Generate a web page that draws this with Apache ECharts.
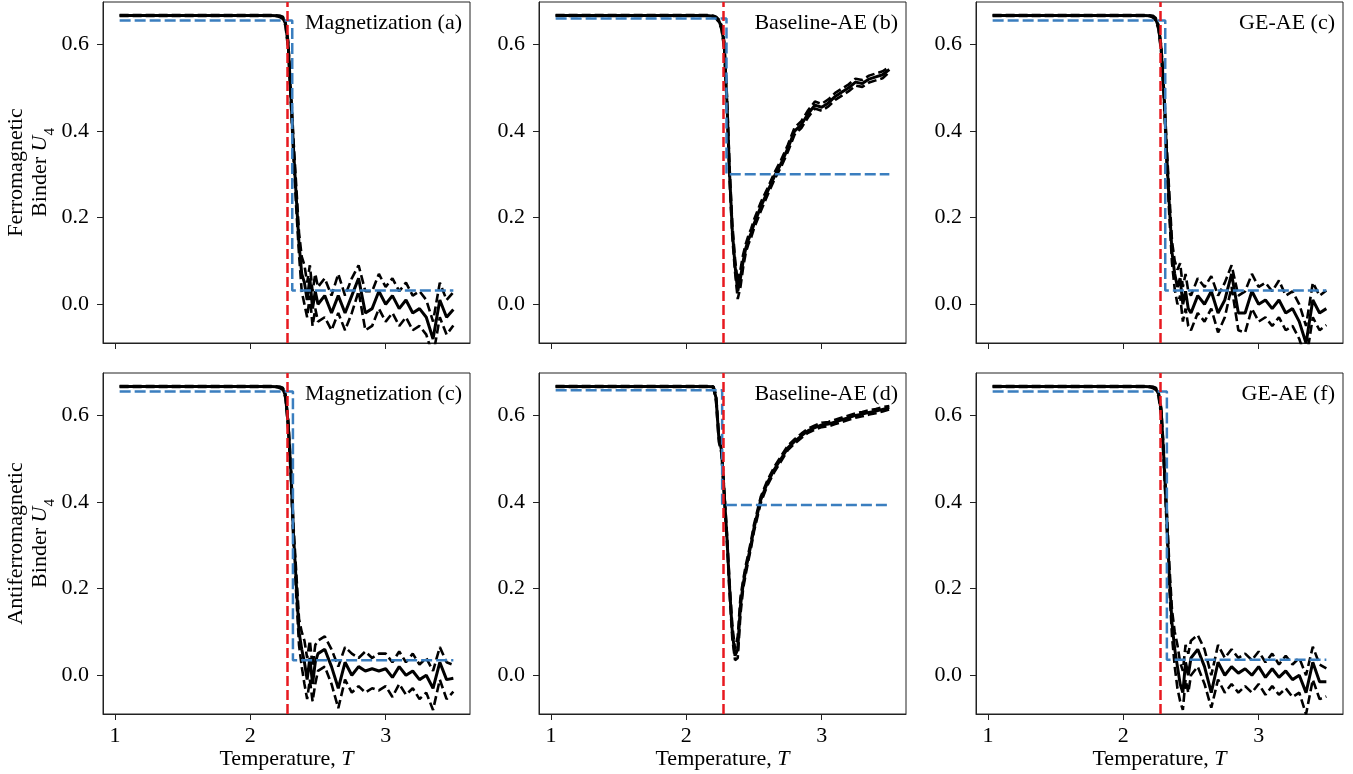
<!DOCTYPE html>
<html><head><meta charset="utf-8">
<script src="https://cdn.jsdelivr.net/npm/echarts@6/dist/echarts.min.js"></script>
<style>html,body{margin:0;padding:0;background:#fff}#c{width:1353px;height:774px}</style>
</head><body><div id="c"></div>
<script>
// Temperature grid
const T = [1.035, 1.2, 1.4, 1.6, 1.8, 2.0, 2.1, 2.15, 2.2, 2.22, 2.24, 2.26, 2.28, 2.30, 2.32, 2.34, 2.36, 2.38,
  2.40, 2.42, 2.44, 2.46, 2.48, 2.50, 2.55, 2.60, 2.65, 2.70, 2.75, 2.80, 2.85, 2.90, 2.95, 3.00, 3.05, 3.10,
  3.15, 3.20, 3.25, 3.30, 3.35, 3.40, 3.45, 3.50];
const Tc = 2.269;
const titles = ['Magnetization (a)', 'Baseline-AE (b)', 'GE-AE (c)', 'Magnetization (c)', 'Baseline-AE (d)', 'GE-AE (f)'];
const xTicks = [1, 2, 3];
const yTicks = [0, 0.2, 0.4, 0.6];

// Panel (a) Magnetization, ferromagnetic
const magA_mean = [0.667,0.667,0.667,0.667,0.667,0.667,0.667,0.667,0.666,0.665,0.662,0.648,0.600,0.480,0.355,0.245,0.140,0.070,
  0.050,0.010,0.060,-0.010,0.030,0.000,0.020,-0.020,0.020,-0.020,0.020,0.060,-0.020,-0.010,0.030,0.000,0.020,-0.010,0.010,-0.020,-0.010,-0.030,-0.080,0.010,-0.030,-0.012];
const magA_up = [0.668,0.668,0.668,0.668,0.668,0.668,0.668,0.668,0.667,0.666,0.664,0.652,0.608,0.495,0.375,0.270,0.165,0.110,
  0.09,0.05,0.09,0.03,0.07,0.04,0.06,0.02,0.07,0.02,0.06,0.09,0.03,0.03,0.07,0.04,0.06,0.03,0.05,0.02,0.03,0.01,-0.04,0.05,0.01,0.028];
const magA_lo = [0.666,0.666,0.666,0.666,0.666,0.666,0.666,0.666,0.665,0.663,0.659,0.643,0.590,0.465,0.335,0.220,0.115,0.030,
  0.00,-0.03,0.02,-0.05,-0.01,-0.04,-0.03,-0.06,-0.02,-0.06,-0.02,0.03,-0.06,-0.05,-0.01,-0.04,-0.02,-0.05,-0.03,-0.06,-0.05,-0.07,-0.12,-0.03,-0.07,-0.049];

// Panel (b) Baseline-AE, ferromagnetic
const baseB_mean = [0.667,0.667,0.667,0.667,0.667,0.667,0.667,0.667,0.665,0.662,0.655,0.640,0.600,0.470,0.300,0.170,0.090,0.030,
  0.060,0.100,0.130,0.150,0.165,0.185,0.225,0.260,0.295,0.325,0.360,0.400,0.415,0.440,0.460,0.455,0.465,0.480,0.490,0.500,0.513,0.510,0.520,0.525,0.530,0.542];
const baseB_up = [0.668,0.668,0.668,0.668,0.668,0.668,0.668,0.668,0.666,0.664,0.658,0.645,0.608,0.485,0.315,0.185,0.105,0.050,
  0.080,0.115,0.140,0.160,0.175,0.195,0.235,0.268,0.303,0.333,0.368,0.408,0.423,0.448,0.468,0.463,0.473,0.488,0.498,0.508,0.521,0.518,0.528,0.533,0.538,0.548];
const baseB_lo = [0.666,0.666,0.666,0.666,0.666,0.666,0.666,0.666,0.664,0.660,0.652,0.635,0.592,0.455,0.285,0.155,0.075,0.012,
  0.040,0.085,0.120,0.140,0.155,0.175,0.215,0.252,0.287,0.317,0.352,0.392,0.407,0.432,0.452,0.447,0.457,0.472,0.482,0.492,0.505,0.502,0.512,0.517,0.522,0.536];

// Panel (c) GE-AE, ferromagnetic
const geC_mean = [0.667,0.667,0.667,0.667,0.667,0.667,0.667,0.667,0.666,0.664,0.658,0.640,0.590,0.490,0.350,0.230,0.120,0.070,
  0.04,0.06,0.00,0.03,-0.01,-0.02,0.02,0.00,0.03,-0.02,0.01,0.07,-0.02,-0.02,0.03,0.00,0.01,-0.01,0.01,-0.02,-0.01,-0.04,-0.09,0.01,-0.02,-0.01];
const geC_up = [0.668,0.668,0.668,0.668,0.668,0.668,0.668,0.668,0.667,0.666,0.661,0.645,0.598,0.505,0.370,0.255,0.145,0.100,
  0.08,0.095,0.04,0.07,0.03,0.02,0.06,0.04,0.065,0.02,0.05,0.09,0.02,0.03,0.07,0.04,0.05,0.03,0.055,0.02,0.03,0.00,-0.05,0.05,0.02,0.032];
const geC_lo = [0.666,0.666,0.666,0.666,0.666,0.666,0.666,0.666,0.665,0.662,0.655,0.635,0.582,0.475,0.330,0.205,0.095,0.035,
  0.00,0.02,-0.04,-0.01,-0.05,-0.06,-0.02,-0.04,-0.01,-0.065,-0.03,0.04,-0.06,-0.065,-0.01,-0.04,-0.03,-0.05,-0.03,-0.06,-0.05,-0.08,-0.13,-0.03,-0.06,-0.048];

// Panel (c, bottom) Magnetization, antiferromagnetic
const magD_mean = [0.667,0.667,0.667,0.667,0.667,0.667,0.667,0.667,0.666,0.665,0.662,0.645,0.580,0.470,0.320,0.210,0.100,0.060,
  0.03,-0.01,0.04,-0.02,0.03,0.05,0.06,0.02,-0.03,0.03,0.00,0.02,0.01,0.015,0.01,0.015,-0.005,0.02,0.00,0.01,-0.01,0.00,-0.03,0.03,-0.01,-0.007];
const magD_up = [0.668,0.668,0.668,0.668,0.668,0.668,0.668,0.668,0.667,0.666,0.664,0.650,0.590,0.485,0.340,0.235,0.130,0.100,
  0.08,0.04,0.08,0.02,0.07,0.08,0.09,0.06,0.02,0.065,0.05,0.04,0.055,0.04,0.05,0.05,0.03,0.055,0.03,0.05,0.025,0.04,0.01,0.065,0.03,0.024];
const magD_lo = [0.666,0.666,0.666,0.666,0.666,0.666,0.666,0.666,0.665,0.663,0.659,0.640,0.570,0.455,0.300,0.185,0.070,0.020,
  -0.02,-0.055,-0.01,-0.06,-0.02,0.01,0.02,-0.02,-0.076,-0.01,-0.04,-0.025,-0.04,-0.03,-0.035,-0.025,-0.05,-0.02,-0.045,-0.03,-0.055,-0.04,-0.08,-0.01,-0.055,-0.038];

// Panel (d) Baseline-AE, antiferromagnetic
const baseE_mean = [0.667,0.667,0.667,0.667,0.667,0.667,0.667,0.667,0.666,0.640,0.550,0.520,0.420,0.320,0.200,0.100,0.045,0.060,
  0.160,0.210,0.245,0.275,0.305,0.340,0.405,0.445,0.475,0.500,0.525,0.540,0.553,0.565,0.572,0.578,0.580,0.585,0.590,0.595,0.600,0.603,0.607,0.610,0.614,0.618];
const baseE_up = [0.668,0.668,0.668,0.668,0.668,0.668,0.668,0.668,0.667,0.648,0.560,0.528,0.430,0.330,0.212,0.115,0.060,0.090,
  0.180,0.220,0.255,0.283,0.313,0.348,0.412,0.451,0.481,0.506,0.530,0.545,0.558,0.570,0.577,0.583,0.585,0.590,0.595,0.600,0.605,0.608,0.612,0.615,0.619,0.622];
const baseE_lo = [0.666,0.666,0.666,0.666,0.666,0.666,0.666,0.666,0.665,0.632,0.540,0.512,0.410,0.310,0.188,0.085,0.035,0.040,
  0.140,0.200,0.235,0.267,0.297,0.332,0.398,0.439,0.469,0.494,0.520,0.535,0.548,0.560,0.567,0.573,0.575,0.580,0.585,0.590,0.595,0.598,0.602,0.605,0.609,0.614];

// Panel (f) GE-AE, antiferromagnetic
const geF_mean = [0.667,0.667,0.667,0.667,0.667,0.667,0.667,0.667,0.666,0.665,0.662,0.650,0.610,0.500,0.370,0.230,0.120,0.060,
  0.02,-0.02,-0.04,0.03,0.00,0.04,0.06,0.02,-0.04,0.03,0.00,0.02,0.005,0.015,0.00,0.02,-0.005,0.015,-0.005,0.01,-0.01,0.00,-0.04,0.03,-0.015,-0.015];
const geF_up = [0.668,0.668,0.668,0.668,0.668,0.668,0.668,0.668,0.667,0.666,0.664,0.655,0.618,0.515,0.390,0.255,0.150,0.100,
  0.07,0.03,0.01,0.07,0.05,0.08,0.093,0.06,0.00,0.07,0.04,0.06,0.04,0.05,0.035,0.055,0.03,0.05,0.025,0.045,0.025,0.04,0.00,0.066,0.025,0.016];
const geF_lo = [0.666,0.666,0.666,0.666,0.666,0.666,0.666,0.666,0.665,0.663,0.659,0.645,0.600,0.485,0.350,0.205,0.090,0.020,
  -0.03,-0.06,-0.08,-0.01,-0.04,0.00,0.02,-0.02,-0.075,-0.01,-0.04,-0.02,-0.04,-0.025,-0.04,-0.02,-0.045,-0.025,-0.045,-0.03,-0.05,-0.04,-0.09,-0.01,-0.055,-0.049];

// Step fits (blue dashed)
const blueHigh = [0.655, 0.660, 0.655, 0.655, 0.658, 0.655];
const blueStep = [2.310, 2.297, 2.310, 2.315, 2.265, 2.322];
const blueLow  = [0.032, 0.300, 0.032, 0.035, 0.393, 0.036];

const means = [magA_mean, baseB_mean, geC_mean, magD_mean, baseE_mean, geF_mean];
const ups = [magA_up, baseB_up, geC_up, magD_up, baseE_up, geF_up];
const los = [magA_lo, baseB_lo, geC_lo, magD_lo, baseE_lo, geF_lo];

const FONT = 'Liberation Serif';
const W = 1353;
const lefts = [103, 539, 976];
const tops = [2, 373];
const GW = 367, GH = 341;

const zip = ys => T.map((t, i) => [t, ys[i]]);

const grid = [], xAxis = [], yAxis = [], series = [], title = [];
for (let k = 0; k < 6; k++) {
  const r = Math.floor(k / 3), c = k % 3;
  grid.push({left: lefts[c], top: tops[r], width: GW, height: GH, show: true, borderColor: '#222', borderWidth: 1, backgroundColor: 'transparent'});
  xAxis.push({
    type: 'value', gridIndex: k, min: 0.912, max: 3.623,
    axisLine: {show: true, onZero: false, lineStyle: {color: '#222', width: 1}},
    axisTick: {show: true, length: 6, lineStyle: {color: '#222', width: 1}, customValues: xTicks},
    axisLabel: {show: r === 1, customValues: xTicks, margin: 11, fontSize: 22, fontFamily: FONT, color: '#000', formatter: v => String(v)},
    splitLine: {show: false},
    name: r === 1 ? 'Temperature, {i|T}' : '',
    nameLocation: 'middle', nameGap: 33,
    nameTextStyle: {fontSize: 22, fontFamily: FONT, color: '#000',
      rich: {i: {fontStyle: 'italic', fontSize: 22, fontFamily: FONT, color: '#000'}}}
  });
  const yName = c === 0 ? ((r === 0 ? '{a|Ferromagnetic}' : '{a|Antiferromagnetic}') + '\n{b|Binder }{i|U}{s|4}') : '';
  yAxis.push({
    type: 'value', gridIndex: k, min: -0.0894, max: 0.698,
    axisLine: {show: true, onZero: false, lineStyle: {color: '#222', width: 1}},
    axisTick: {show: true, length: 6, lineStyle: {color: '#222', width: 1}, customValues: yTicks},
    axisLabel: {show: true, customValues: yTicks, margin: 14, fontSize: 22, fontFamily: FONT, color: '#000', formatter: v => v.toFixed(1)},
    splitLine: {show: false},
    name: yName, nameLocation: 'middle', nameRotate: 90, nameGap: 42,
    nameTextStyle: {fontSize: 22, fontFamily: FONT, color: '#000',
      rich: {
        a: {fontSize: 22, fontFamily: FONT, color: '#000', lineHeight: 26},
        b: {fontSize: 22, fontFamily: FONT, color: '#000', lineHeight: 28, verticalAlign: 'top'},
        i: {fontSize: 22, fontFamily: FONT, color: '#000', fontStyle: 'italic', lineHeight: 28, verticalAlign: 'top'},
        s: {fontSize: 15, fontFamily: FONT, color: '#000', lineHeight: 28, verticalAlign: 'bottom'}
      }}
  });
  const lineBase = {type: 'line', xAxisIndex: k, yAxisIndex: k, showSymbol: false, symbol: 'none', animation: false, silent: true, clip: true};
  series.push(Object.assign({}, lineBase, {data: zip(ups[k]), lineStyle: {color: '#000', width: 2.6, type: [9, 4]}}));
  series.push(Object.assign({}, lineBase, {data: zip(los[k]), lineStyle: {color: '#000', width: 2.6, type: [9, 4]}}));
  series.push(Object.assign({}, lineBase, {data: zip(means[k]), lineStyle: {color: '#000', width: 3}}));
  series.push(Object.assign({}, lineBase, {
    data: [[T[0], blueHigh[k]], [blueStep[k], blueHigh[k]], [blueStep[k], blueLow[k]], [T[T.length - 1], blueLow[k]]],
    lineStyle: {color: '#3a7ebf', width: 2.5, type: [11, 4]},
    markLine: {silent: true, symbol: ['none', 'none'], animation: false, label: {show: false},
      lineStyle: {color: '#e8191f', width: 2.5, type: [10, 4]}, data: [{xAxis: Tc}]}
  }));
  title.push({text: titles[k], right: W - (lefts[c] + GW - 8), top: tops[r] + 10, padding: 0,
    textStyle: {fontSize: 22, fontFamily: FONT, fontWeight: 'normal', color: '#000'}});
}

const chart = echarts.init(document.getElementById('c'), null, {renderer: 'canvas'});
chart.setOption({animation: false, backgroundColor: '#fff', title, grid, xAxis, yAxis, series});
</script>
</body></html>
